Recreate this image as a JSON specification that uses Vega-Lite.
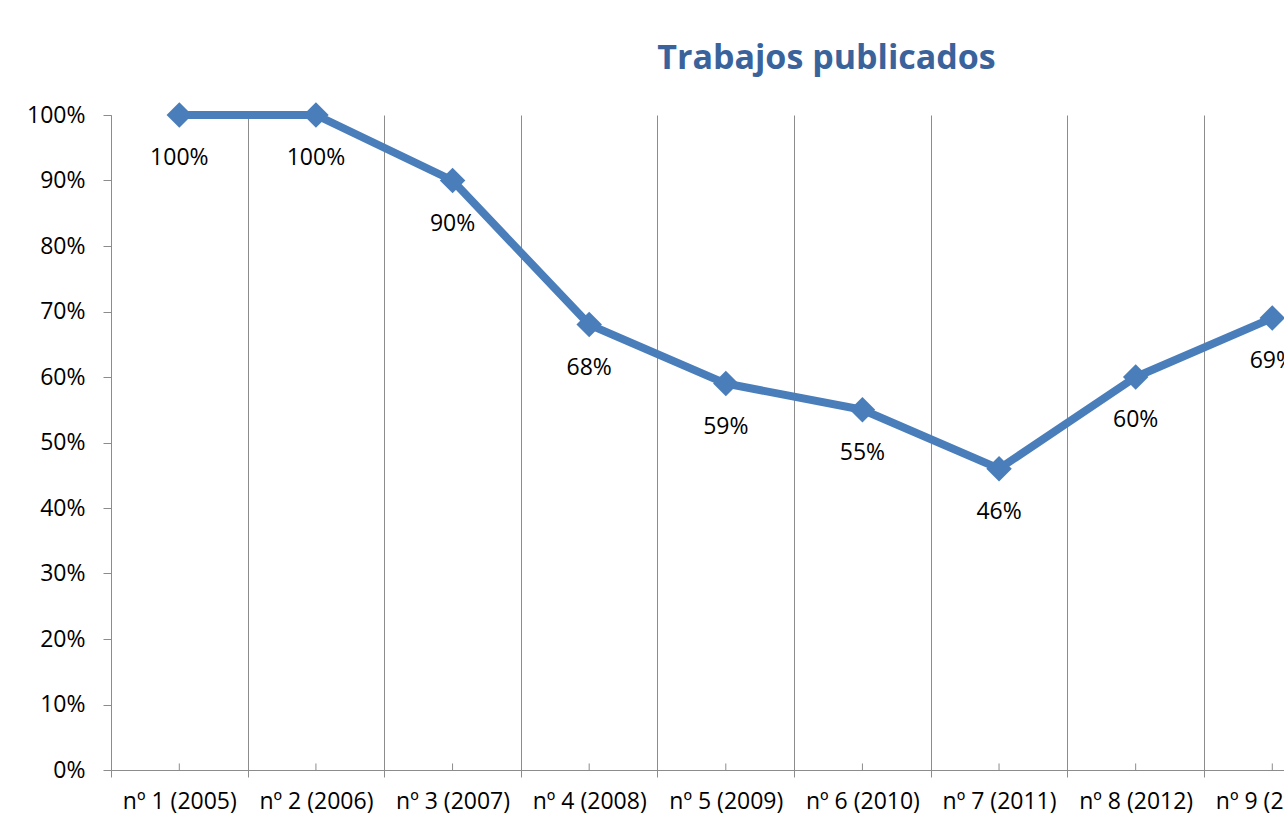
{
  "$schema": "https://vega.github.io/schema/vega-lite/v6.json",
  "autosize": {"type": "none"},
  "width": 1173,
  "height": 655,
  "padding": {"left": 111, "top": 115, "right": 0, "bottom": 62},
  "background": "white",
  "title": {
    "text": "Trabajos publicados",
    "anchor": "middle",
    "dx": 129,
    "font": "Open Sans",
    "fontSize": 34,
    "fontWeight": "bold",
    "color": "#3a639c",
    "baseline": "alphabetic",
    "offset": -1
  },
  "config": {
    "view": {"stroke": null},
    "font": "Open Sans"
  },
  "data": {
    "values": [
      {"numero": "nº 1 (2005)", "valor": 1.00},
      {"numero": "nº 2 (2006)", "valor": 1.00},
      {"numero": "nº 3 (2007)", "valor": 0.90},
      {"numero": "nº 4 (2008)", "valor": 0.68},
      {"numero": "nº 5 (2009)", "valor": 0.59},
      {"numero": "nº 6 (2010)", "valor": 0.55},
      {"numero": "nº 7 (2011)", "valor": 0.46},
      {"numero": "nº 8 (2012)", "valor": 0.60},
      {"numero": "nº 9 (2013)", "valor": 0.69}
    ]
  },
  "encoding": {
    "x": {
      "field": "numero",
      "type": "nominal",
      "sort": null,
      "scale": {"type": "band", "range": [0, 1229.6], "paddingInner": 0, "paddingOuter": 0},
      "axis": {
        "title": null,
        "labelAngle": 0,
        "tickBand": "extent",
        "grid": true,
        "gridColor": "#8c8c8c",
        "gridWidth": 1,
        "tickColor": "#8c8c8c",
        "tickSize": 7,
        "domainColor": "#8c8c8c",
        "labelFont": "Open Sans",
        "labelFontSize": 23,
        "labelColor": "#000000",
        "labelPadding": 13,
        "labelBaseline": "top"
      }
    }
  },
  "layer": [
    {
      "mark": {"type": "rule", "color": "#8c8c8c", "strokeWidth": 1},
      "encoding": {
        "y": {"datum": 0, "type": "quantitative"},
        "y2": {"datum": 0.01}
      }
    },
    {
      "mark": {"type": "line", "color": "#4a7ebb", "strokeWidth": 8, "strokeJoin": "round"},
      "encoding": {
        "y": {
          "field": "valor",
          "type": "quantitative",
          "scale": {"domain": [0, 1], "nice": false},
          "axis": {
            "title": null,
            "format": ".0%",
            "tickCount": 10,
            "grid": false,
            "tickColor": "#8c8c8c",
            "tickSize": 8,
            "domainColor": "#8c8c8c",
            "labelFont": "Open Sans",
            "labelFontSize": 23,
            "labelColor": "#000000",
            "labelPadding": 18
          }
        }
      }
    },
    {
      "mark": {"type": "point", "shape": "diamond", "filled": true, "size": 650, "color": "#4a7ebb", "opacity": 1},
      "encoding": {
        "y": {"field": "valor", "type": "quantitative"}
      }
    },
    {
      "mark": {"type": "text", "dy": 43, "baseline": "middle", "align": "center", "font": "Open Sans", "fontSize": 23, "color": "#000000"},
      "encoding": {
        "y": {"field": "valor", "type": "quantitative"},
        "text": {"field": "valor", "type": "quantitative", "format": ".0%"}
      }
    }
  ]
}
